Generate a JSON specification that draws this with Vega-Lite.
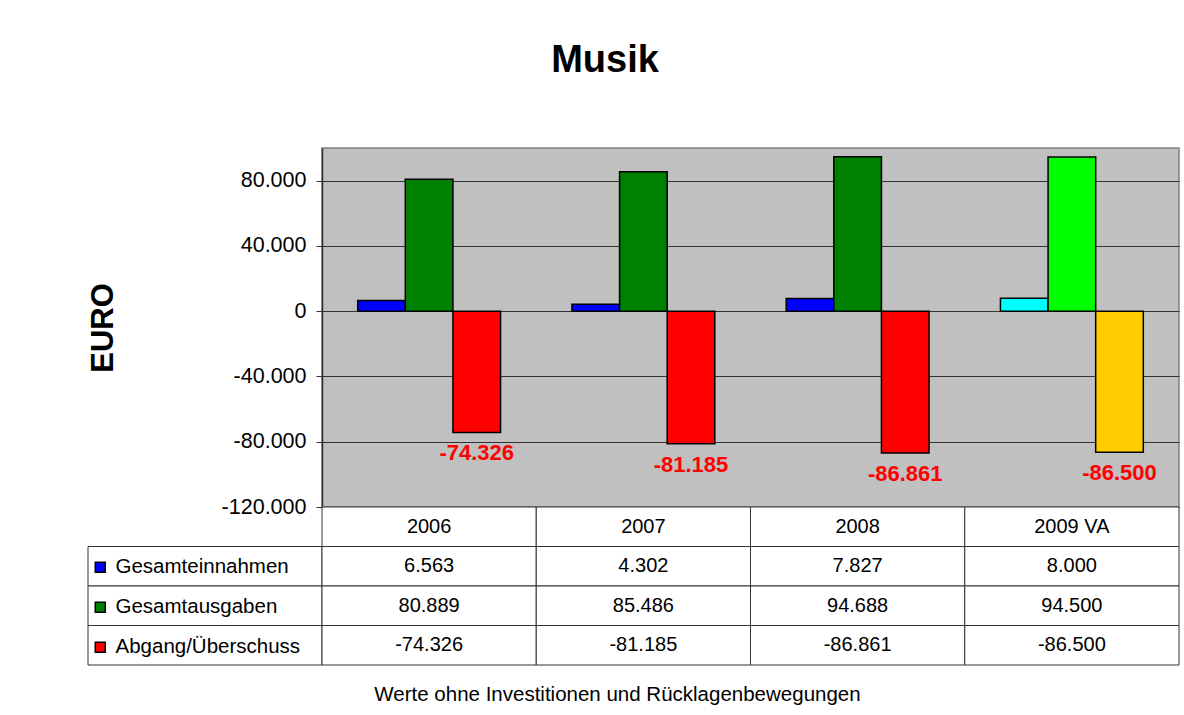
{
  "$schema": "https://vega.github.io/schema/vega-lite/v6.json",
  "background": "white",
  "padding": {"left": 86, "top": 42, "right": 4, "bottom": 8},
  "config": {
    "font": "Liberation Sans",
    "locale": {"number": {"decimal": ",", "thousands": ".", "grouping": [3], "currency": ["", " €"], "minus": "-"}},
    "view": {"stroke": null}
  },
  "title": {"text": "Musik", "fontSize": 38, "fontWeight": "bold", "color": "black", "anchor": "middle", "dx": -28, "offset": 37, "baseline": "alphabetic"},
  "datasets": {
    "werte": [
      {"Jahr": "2006", "Reihe": "Gesamteinnahmen", "Kategorie": "Gesamteinnahmen", "Wert": 6563},
      {"Jahr": "2006", "Reihe": "Gesamtausgaben", "Kategorie": "Gesamtausgaben", "Wert": 80889},
      {"Jahr": "2006", "Reihe": "Abgang/Überschuss", "Kategorie": "Abgang/Überschuss", "Wert": -74326},
      {"Jahr": "2007", "Reihe": "Gesamteinnahmen", "Kategorie": "Gesamteinnahmen", "Wert": 4302},
      {"Jahr": "2007", "Reihe": "Gesamtausgaben", "Kategorie": "Gesamtausgaben", "Wert": 85486},
      {"Jahr": "2007", "Reihe": "Abgang/Überschuss", "Kategorie": "Abgang/Überschuss", "Wert": -81185},
      {"Jahr": "2008", "Reihe": "Gesamteinnahmen", "Kategorie": "Gesamteinnahmen", "Wert": 7827},
      {"Jahr": "2008", "Reihe": "Gesamtausgaben", "Kategorie": "Gesamtausgaben", "Wert": 94688},
      {"Jahr": "2008", "Reihe": "Abgang/Überschuss", "Kategorie": "Abgang/Überschuss", "Wert": -86861},
      {"Jahr": "2009 VA", "Reihe": "Gesamteinnahmen", "Kategorie": "Gesamteinnahmen (VA)", "Wert": 8000},
      {"Jahr": "2009 VA", "Reihe": "Gesamtausgaben", "Kategorie": "Gesamtausgaben (VA)", "Wert": 94500},
      {"Jahr": "2009 VA", "Reihe": "Abgang/Überschuss", "Kategorie": "Abgang/Überschuss (VA)", "Wert": -86500}
    ]
  },
  "bounds": "flush",
  "spacing": 0,
  "columns": 2,
  "concat": [
    {
      "width": 234,
      "height": 359,
      "data": {"values": [{}]},
      "mark": {"type": "point", "opacity": 0},
      "encoding": {}
    },
    {
      "width": 857,
      "height": 359,
      "data": {"name": "werte"},
      "view": {"fill": "#C0C0C0", "stroke": "#808080", "strokeWidth": 1.5},
      "encoding": {
        "x": {"field": "Jahr", "type": "nominal", "scale": {"domain": ["2006", "2007", "2008", "2009 VA"], "paddingInner": 0, "paddingOuter": 0}, "axis": null},
        "xOffset": {"field": "Reihe", "type": "nominal", "scale": {"domain": ["Gesamteinnahmen", "Gesamtausgaben", "Abgang/Überschuss"], "paddingInner": 0, "paddingOuter": 0.75}},
        "y": {
          "field": "Wert", "type": "quantitative",
          "scale": {"domain": [-120000, 100000], "nice": false, "zero": false},
          "axis": {
            "values": [-120000, -80000, -40000, 0, 40000, 80000],
            "format": ",.0f",
            "labelFontSize": 21.5, "labelColor": "black", "labelPadding": 10,
            "tickSize": 6, "tickColor": "#333", "domainColor": "#333", "domainWidth": 1.5,
            "grid": true, "gridColor": "#333", "gridWidth": 1,
            "title": "EURO", "titleFontSize": 31, "titleFontWeight": "bold", "titleColor": "black", "titlePadding": 102
          }
        }
      },
      "layer": [
        {
          "mark": {"type": "bar", "stroke": "black", "strokeWidth": 1.5},
          "encoding": {
            "color": {
              "field": "Kategorie", "type": "nominal",
              "scale": {
                "domain": ["Gesamteinnahmen", "Gesamtausgaben", "Abgang/Überschuss", "Gesamteinnahmen (VA)", "Gesamtausgaben (VA)", "Abgang/Überschuss (VA)"],
                "range": ["#0000FF", "#008000", "#FF0000", "#00FFFF", "#00FF00", "#FFCC00"]
              },
              "legend": {
                "values": ["Gesamteinnahmen", "Gesamtausgaben", "Abgang/Überschuss"],
                "title": null, "orient": "none", "legendX": 2, "legendY": 409,
                "symbolType": "square", "symbolSize": 100, "symbolStrokeColor": "black", "symbolStrokeWidth": 1.5,
                "labelFontSize": 20.5, "labelColor": "black", "labelOffset": 5, "rowPadding": 19, "padding": 0, "labelLimit": 300
              }
            }
          }
        },
        {
          "transform": [{"filter": "datum.Reihe === 'Abgang/Überschuss'"}],
          "mark": {"type": "text", "baseline": "top", "dy": 11, "fontSize": 22, "fontWeight": "bold", "color": "#FF0000"},
          "encoding": {"text": {"field": "Wert", "type": "quantitative", "format": ",.0f"}}
        }
      ]
    },
    {
      "width": 234,
      "height": 158,
      "data": {"name": "werte"},
      "transform": [{"filter": "datum.Jahr === '2006'"}],
      "mark": {"type": "rect", "fill": "white", "stroke": "#333", "strokeWidth": 1},
      "encoding": {
        "y": {"field": "Reihe", "type": "nominal", "scale": {"domain": ["Jahr", "Gesamteinnahmen", "Gesamtausgaben", "Abgang/Überschuss"], "paddingInner": 0, "paddingOuter": 0}, "axis": null}
      }
    },
    {
      "width": 857,
      "height": 158,
      "data": {"name": "werte"},
      "title": {"text": "Werte ohne Investitionen und Rücklagenbewegungen", "orient": "bottom", "anchor": "middle", "dx": -133, "offset": 19, "fontSize": 20.5, "fontWeight": "normal", "color": "black"},
      "encoding": {
        "x": {"field": "Jahr", "type": "nominal", "scale": {"domain": ["2006", "2007", "2008", "2009 VA"], "paddingInner": 0, "paddingOuter": 0}, "axis": null},
        "y": {"field": "Reihe", "type": "nominal", "scale": {"domain": ["Jahr", "Gesamteinnahmen", "Gesamtausgaben", "Abgang/Überschuss"], "paddingInner": 0, "paddingOuter": 0}, "axis": null}
      },
      "layer": [
        {"mark": {"type": "rect", "fill": "white", "stroke": "#333", "strokeWidth": 1}},
        {
          "transform": [{"filter": "datum.Reihe === 'Gesamteinnahmen'"}],
          "mark": {"type": "rect", "fill": "white", "stroke": "#333", "strokeWidth": 1},
          "encoding": {"y": {"datum": "Jahr"}}
        },
        {
          "mark": {"type": "text", "fontSize": 20, "color": "black"},
          "encoding": {"text": {"field": "Wert", "type": "quantitative", "format": ",.0f"}}
        },
        {
          "transform": [{"filter": "datum.Reihe === 'Gesamteinnahmen'"}],
          "mark": {"type": "text", "fontSize": 20, "color": "black"},
          "encoding": {"y": {"datum": "Jahr"}, "text": {"field": "Jahr", "type": "nominal"}}
        }
      ]
    }
  ]
}
